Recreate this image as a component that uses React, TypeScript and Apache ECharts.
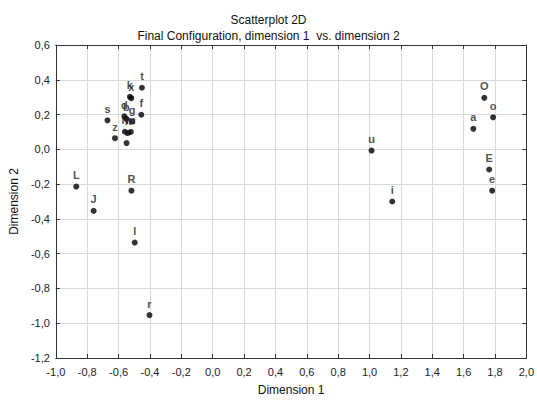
import React, { useEffect, useRef } from "react";
import * as echarts from "echarts";

const pointNames = ["t", "k", "x", "f", "s", "z", "d", "b", "g", "h", "n", "m", "v", "L", "J", "R", "l", "r", "u", "i", "a", "O", "o", "E", "e"];
const dim1 = [-0.451, -0.528, -0.519, -0.455, -0.671, -0.623, -0.563, -0.55, -0.514, -0.56, -0.539, -0.522, -0.549, -0.87, -0.759, -0.518, -0.497, -0.403, 1.013, 1.145, 1.662, 1.732, 1.788, 1.763, 1.782];
const dim2 = [0.354, 0.302, 0.294, 0.199, 0.167, 0.064, 0.19, 0.175, 0.159, 0.101, 0.094, 0.1, 0.036, -0.214, -0.354, -0.238, -0.536, -0.953, -0.007, -0.3, 0.118, 0.296, 0.184, -0.116, -0.238];

const xMin = -1.0;
const xMax = 2.0;
const yMin = -1.2;
const yMax = 0.6;
const tickStep = 0.2;

const fmt = (v: number) => v.toFixed(1).replace(".", ",");

export default function App() {
  const ref = useRef<HTMLDivElement>(null);
  useEffect(() => {
    if (!ref.current) return;
    const chart = echarts.init(ref.current, null, { renderer: "svg" });
    const font = "Arial, 'Liberation Sans', sans-serif";
    const data = pointNames.map((n, i) => [dim1[i], dim2[i], n]);
    const frameLine = { show: true, onZero: false, lineStyle: { color: "#333", width: 1 } };
    const tickIn = { show: true, inside: true, length: 4, lineStyle: { color: "#333" } };
    const grid = { show: true, lineStyle: { color: "#d9d9d9", width: 1 } };
    chart.setOption({
      animation: false,
      backgroundColor: "#fff",
      title: [
        { text: "Scatterplot 2D", left: "center", top: 9, textStyle: { fontFamily: font, fontSize: 12, fontWeight: "normal", color: "#111" } },
        { text: "Final Configuration, dimension 1  vs. dimension 2", left: "center", top: 25, textStyle: { fontFamily: font, fontSize: 12, fontWeight: "normal", color: "#111" } },
      ],
      grid: { left: 55, right: 4, top: 45, bottom: 34, containLabel: false },
      xAxis: [
        {
          type: "value", min: xMin, max: xMax, interval: tickStep, position: "bottom",
          name: "Dimension 1", nameLocation: "middle", nameGap: 26,
          nameTextStyle: { fontFamily: font, fontSize: 12, color: "#111" },
          axisLine: frameLine, axisTick: tickIn, splitLine: grid,
          axisLabel: { formatter: fmt, fontFamily: font, fontSize: 11, color: "#1a1a2a", margin: 8, showMaxLabel: true },
        },
        {
          type: "value", min: xMin, max: xMax, interval: tickStep, position: "top",
          axisLine: frameLine, axisTick: tickIn, splitLine: { show: false }, axisLabel: { show: false },
        },
      ],
      yAxis: [
        {
          type: "value", min: yMin, max: yMax, interval: tickStep, position: "left",
          name: "Dimension 2", nameLocation: "middle", nameGap: 32, nameRotate: 90,
          nameTextStyle: { fontFamily: font, fontSize: 12, color: "#111" },
          axisLine: frameLine, axisTick: tickIn, splitLine: grid,
          axisLabel: { formatter: fmt, fontFamily: font, fontSize: 11, color: "#1a1a2a", margin: 6 },
        },
        {
          type: "value", min: yMin, max: yMax, interval: tickStep, position: "right",
          axisLine: frameLine, axisTick: tickIn, splitLine: { show: false }, axisLabel: { show: false },
        },
      ],
      series: [
        {
          type: "scatter",
          data,
          symbol: "circle",
          symbolSize: 6,
          itemStyle: { color: "#000" },
          label: {
            show: true,
            position: "top",
            distance: 3,
            formatter: (p: any) => p.data[2],
            fontFamily: font,
            fontSize: 11,
            fontWeight: "bold",
            color: "#222",
          },
          labelLayout: { hideOverlap: false },
        },
      ],
    });
    return () => chart.dispose();
  }, []);
  return <div ref={ref} style={{ position: "fixed", left: 0, top: 0, width: 537, height: 401 }} />;
}
